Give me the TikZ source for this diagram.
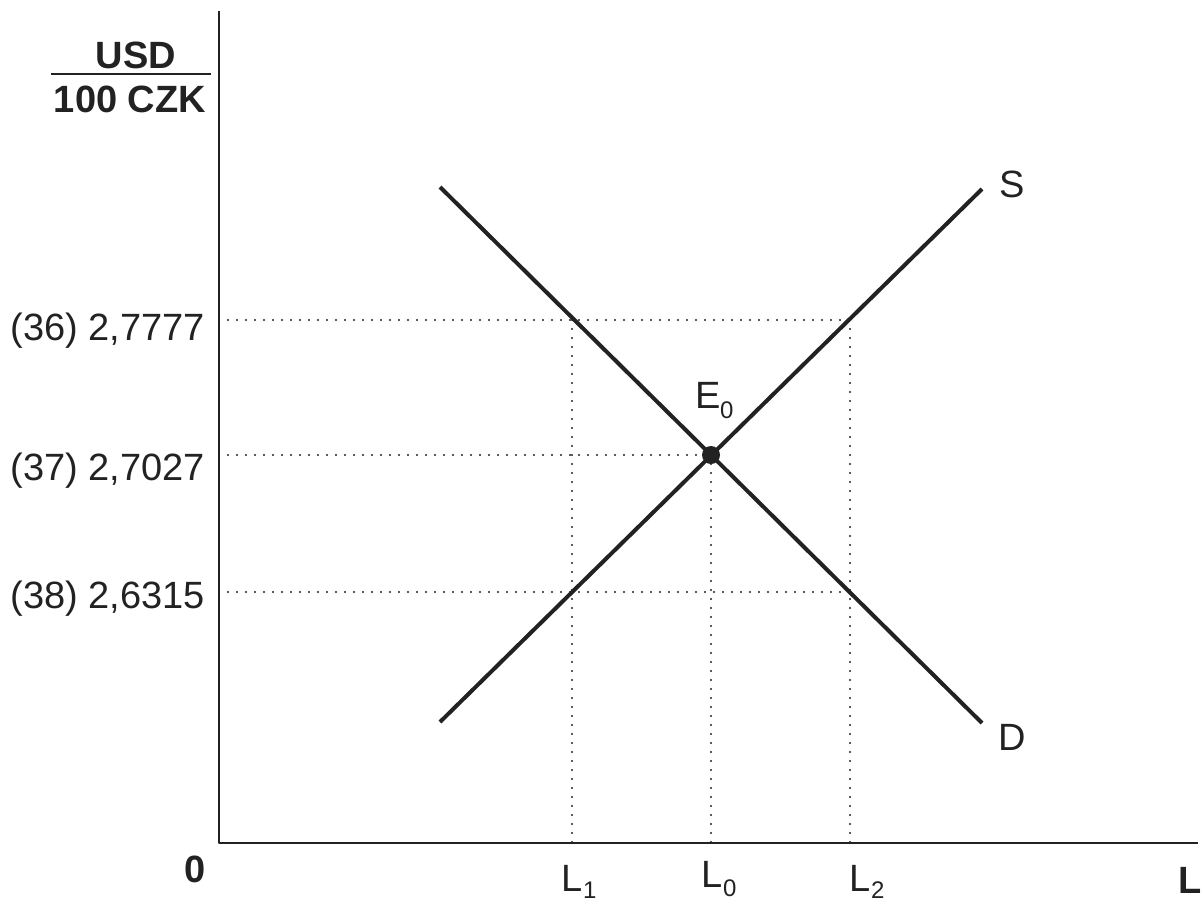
\documentclass[tikz,border=0pt]{standalone}
\usepackage{fontspec}
\setmainfont{Liberation Sans}
\definecolor{ink}{HTML}{222222}
\begin{document}
\begin{tikzpicture}[x=1pt,y=-1pt,
  axisline/.style={draw=ink,line width=2.2pt,line join=round},
  curve/.style={draw=ink,line width=4pt},
  guide/.style={draw=ink,line width=2.4pt,dash pattern=on 0pt off 9pt,line cap=round},
  lbl/.style={inner sep=0pt,text=ink,font=\fontsize{38}{44}\selectfont},
  blbl/.style={inner sep=0pt,text=ink,font=\fontsize{38}{44}\selectfont\bfseries},
  sub/.style={inner sep=0pt,text=ink,font=\fontsize{24}{28}\selectfont}]
\useasboundingbox (0,0) rectangle (1201,903);
% axes
\coordinate (ytop) at (219,11);
\coordinate (orig) at (219,843);
\coordinate (xend) at (1198,843);
\draw[axisline] (ytop) -- (orig) -- (xend);
% curves
\coordinate (s0) at (440,722);
\coordinate (s1) at (982,189);
\coordinate (d0) at (440,187);
\coordinate (d1) at (982,723);
\draw[curve] (s0) -- (s1);
\draw[curve] (d0) -- (d1);
% guide coordinates
\coordinate (ya) at (219,320);
\coordinate (yb) at (219,455);
\coordinate (yc) at (219,592);
\coordinate (p1a) at (572,320);
\coordinate (p2a) at (850,320);
\coordinate (e0) at (711,455);
\coordinate (p1c) at (572,592);
\coordinate (p2c) at (850,592);
\coordinate (x1) at (572,843);
\coordinate (x0) at (711,843);
\coordinate (x2) at (850,843);
\draw[guide] (ya) -- (p2a);
\draw[guide] (yb) -- (e0);
\draw[guide] (yc) -- (p2c);
\draw[guide] (p1a) -- (x1);
\draw[guide] (e0) -- (x0);
\draw[guide] (p2a) -- (x2);
\fill[ink] (e0) circle (9pt);
% y labels
\node[lbl,anchor=base east] (la) at (205,340) {(36) 2,7777};
\node[lbl,anchor=base east] (lb) at (205,480) {(37) 2,7027};
\node[lbl,anchor=base east] (lc) at (205,608) {(38) 2,6315};
% fraction
\node[blbl,anchor=base] (usd) at (136,68) {USD};
\node[blbl,anchor=base] (czk) at (130,112) {100 CZK};
\coordinate (fr0) at (51,74);
\coordinate (fr1) at (211,74);
\draw[draw=ink,line width=1.6pt] (fr0) -- (fr1);
% zero and L
\node[blbl,anchor=base] (zero) at (195,882) {0};
\node[blbl,anchor=base west] (lax) at (1178,893) {L};
% curve labels
\node[lbl,anchor=base west] (slab) at (999,197) {S};
\node[lbl,anchor=base west] (dlab) at (998,750) {D};
% L labels
\node[lbl,anchor=base west] (l1) at (561,891) {L};
\node[sub,anchor=base west] (l1s) at (583,898) {1};
\node[lbl,anchor=base west] (l0) at (701,887) {L};
\node[sub,anchor=base west] (l0s) at (723,896) {0};
\node[lbl,anchor=base west] (l2) at (849,891) {L};
\node[sub,anchor=base west] (l2s) at (871,898) {2};
% E0
\node[lbl,anchor=base west] (el) at (695,408) {E};
\node[sub,anchor=base west] (els) at (720,418) {0};
\end{tikzpicture}
\end{document}
